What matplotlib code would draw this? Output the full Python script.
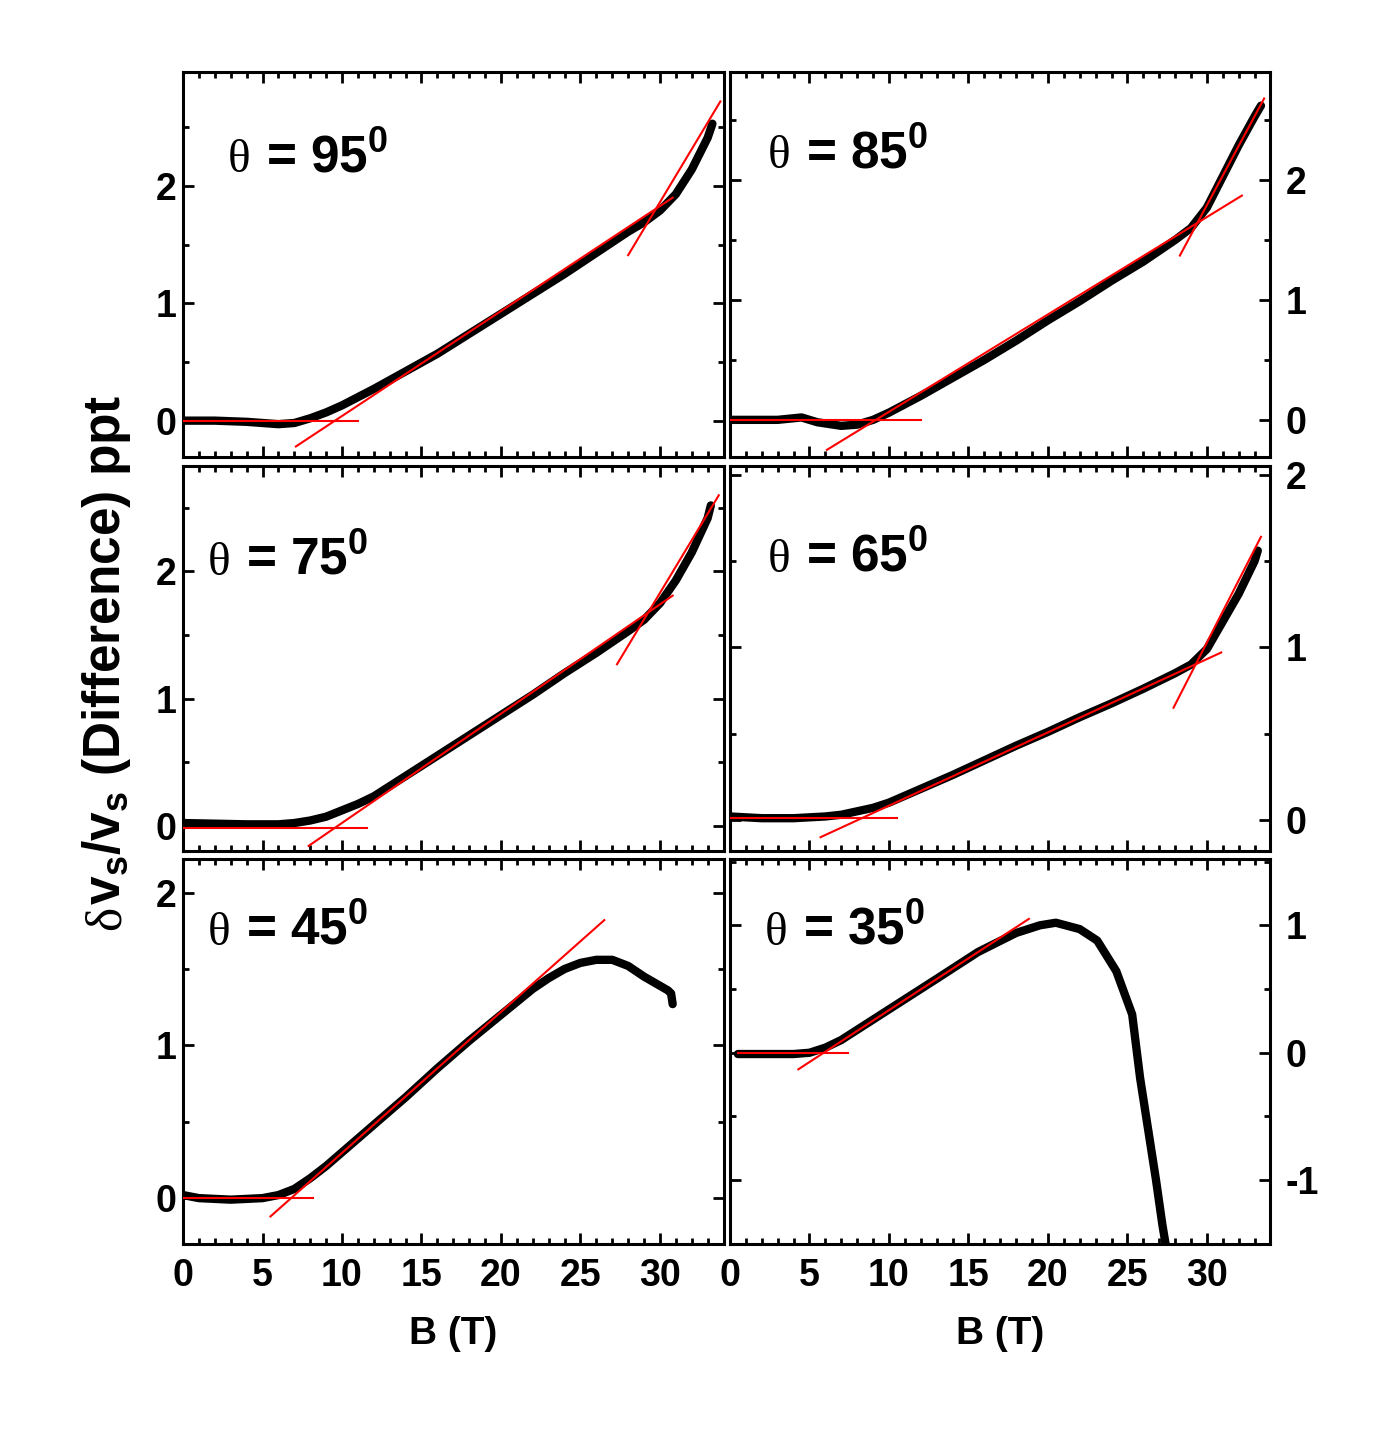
import matplotlib
matplotlib.use('Agg')
from matplotlib import pyplot as plt
from matplotlib import transforms
from matplotlib.ticker import MultipleLocator

plt.rcParams['font.family'] = ['Liberation Sans', 'DejaVu Sans']
plt.rcParams['font.weight'] = 'bold'
plt.rcParams['mathtext.fontset'] = 'custom'
plt.rcParams['mathtext.bf'] = 'Liberation Sans:bold'
plt.rcParams['axes.unicode_minus'] = False

# panel angles, in figure order (row by row)
angles = [95, 85, 75, 65, 45, 35]

# measured curves: field B (T) and dv/v (ppt)
b95 = [0, 2, 4, 6, 7, 8, 9, 10, 11, 12, 14, 16, 18, 20, 22, 24, 26, 28, 29, 30, 31, 32, 33, 33.3]
v95 = [0.0, 0.0, -0.01, -0.03, -0.02, 0.02, 0.07, 0.13, 0.2, 0.27, 0.42, 0.57, 0.74, 0.91, 1.08, 1.25, 1.43, 1.61, 1.69, 1.79, 1.93, 2.14, 2.41, 2.53]

b85 = [0, 3, 4.5, 5.5, 7, 8, 9, 10, 12, 14, 16, 18, 20, 22, 24, 26, 28, 29, 30, 31, 32, 33, 33.4]
v85 = [0.0, 0.0, 0.02, -0.02, -0.05, -0.04, 0.0, 0.06, 0.2, 0.35, 0.5, 0.66, 0.83, 0.99, 1.16, 1.32, 1.5, 1.6, 1.77, 2.03, 2.29, 2.53, 2.62]

b75 = [0, 4, 6, 7, 8, 9, 10, 11, 12, 14, 16, 18, 20, 22, 24, 26, 28, 29, 30, 31, 32, 33, 33.2]
v75 = [0.02, 0.01, 0.01, 0.02, 0.04, 0.07, 0.12, 0.17, 0.23, 0.39, 0.55, 0.71, 0.87, 1.03, 1.2, 1.36, 1.53, 1.62, 1.75, 1.93, 2.15, 2.42, 2.52]

b65 = [0, 2, 4, 6, 7, 8, 9, 10, 12, 14, 16, 18, 20, 22, 24, 26, 28, 29, 30, 31, 32, 33, 33.2]
v65 = [0.02, 0.01, 0.01, 0.02, 0.03, 0.05, 0.07, 0.1, 0.18, 0.26, 0.345, 0.43, 0.51, 0.595, 0.675, 0.76, 0.85, 0.9, 0.99, 1.15, 1.31, 1.5, 1.56]

b45 = [0, 1, 3, 5, 6, 7, 8, 9, 10, 12, 14, 16, 18, 20, 22, 23, 24, 25, 26, 27, 28, 29, 30, 30.5, 30.7, 30.8]
v45 = [0.02, 0.0, -0.01, 0.0, 0.02, 0.06, 0.13, 0.21, 0.3, 0.48, 0.66, 0.85, 1.03, 1.2, 1.37, 1.44, 1.5, 1.54, 1.56, 1.56, 1.52, 1.45, 1.39, 1.36, 1.34, 1.27]

b35 = [0.5, 2, 4, 5, 6, 7, 8, 10.5, 13, 15.6, 18, 19.5, 20.5, 22, 23.1, 24.3, 25.3, 25.8, 26.3, 26.8, 27.2, 27.4]
v35 = [-0.01, -0.01, -0.01, 0.0, 0.04, 0.1, 0.18, 0.38, 0.58, 0.79, 0.94, 1.0, 1.02, 0.97, 0.88, 0.64, 0.3, -0.2, -0.6, -1.0, -1.35, -1.5]

curves = [(b95, v95), (b85, v85), (b75, v75), (b65, v65), (b45, v45), (b35, v35)]

# red guide lines, endpoints (B, value) of each segment
fits95 = [([0, 11], [0, 0]), ([7.1, 30.8], [-0.22, 1.9]), ([28.0, 33.8], [1.41, 2.72])]
fits85 = [([0, 12], [0, 0]), ([6.1, 32.2], [-0.25, 1.87]), ([28.3, 33.6], [1.37, 2.68])]
fits75 = [([0, 11.6], [-0.02, -0.02]), ([7.9, 30.8], [-0.16, 1.81]), ([27.3, 33.7], [1.27, 2.6])]
fits65 = [([0, 10.5], [0.01, 0.01]), ([5.7, 30.9], [-0.1, 0.97]), ([27.9, 33.4], [0.65, 1.64])]
fits45 = [([0, 8.2], [0, 0]), ([5.5, 26.5], [-0.12, 1.82])]
fits35 = [([0.5, 7.4], [0, 0]), ([4.3, 18.8], [-0.13, 1.05])]
fits = [fits95, fits85, fits75, fits65, fits45, fits35]

ylims = [(-0.31, 2.97), (-0.31, 2.9), (-0.2, 2.83), (-0.18, 2.05), (-0.3, 2.22), (-1.5, 1.52)]
label_pos = [(0.083, 0.74), (0.07, 0.75), (0.046, 0.718), (0.07, 0.725), (0.046, 0.777), (0.065, 0.777)]

fig = plt.figure(figsize=(13.96, 14.30), dpi=100)

lefts = [0.1311, 0.5229]
bottoms = [0.6804, 0.4049, 0.1301]
w = 0.3872
h = 0.2692

for i in range(6):
    row, col = i // 2, i % 2
    ax = fig.add_axes([lefts[col], bottoms[row], w, h])
    b, v = curves[i]
    ax.plot(b, v, color='black', lw=6, solid_capstyle='round', solid_joinstyle='round', zorder=2)
    for fb, fv in fits[i]:
        ax.plot(fb, fv, color='red', lw=1.5, zorder=3)

    ax.set_xlim(0, 34)
    ax.set_ylim(*ylims[i])
    ax.xaxis.set_major_locator(MultipleLocator(5))
    ax.xaxis.set_minor_locator(MultipleLocator(1))
    ax.yaxis.set_major_locator(MultipleLocator(1))
    ax.yaxis.set_minor_locator(MultipleLocator(0.5))
    ax.tick_params(which='both', direction='in', top=True, bottom=True, left=True, right=True, width=2)
    ax.tick_params(which='major', length=8, labelsize=27)
    ax.tick_params(which='minor', length=4)
    for s in ax.spines.values():
        s.set_linewidth(2.2)

    if col == 1:
        ax.tick_params(axis='y', labelleft=False, labelright=True, pad=11)
    else:
        ax.tick_params(axis='y', pad=5)
    if row < 2:
        ax.tick_params(axis='x', labelbottom=False)
    else:
        ax.tick_params(axis='x', pad=10)
        ax.set_xlabel('B (T)', fontsize=28, fontweight='bold', labelpad=16)

    tx, ty = label_pos[i]
    ax.text(tx, ty, '\u03b8', transform=ax.transAxes, fontsize=34, fontweight='normal',
            family='Liberation Serif', va='baseline', ha='left')
    shifted = transforms.offset_copy(ax.transAxes, fig=fig, x=38, y=0, units='dots')
    ax.text(tx, ty, r'= %d$^{\mathbf{0}}$' % angles[i], transform=shifted,
            fontsize=37, fontweight='bold', va='baseline', ha='left')

# y label: serif delta, then the rest in bold sans
fig.text(0.0766, 1 - 930 / 1430, '\u03b4', rotation=90, fontsize=37, fontweight='normal',
         family='Liberation Serif', va='bottom', ha='center')
fig.text(0.0766, 1 - 905 / 1430, r'$\mathbf{v}_\mathbf{s}\mathbf{/v}_\mathbf{s}$ (Difference) ppt',
         rotation=90, fontsize=37, fontweight='bold', va='bottom', ha='center')

fig.savefig('out.png', dpi=100)
